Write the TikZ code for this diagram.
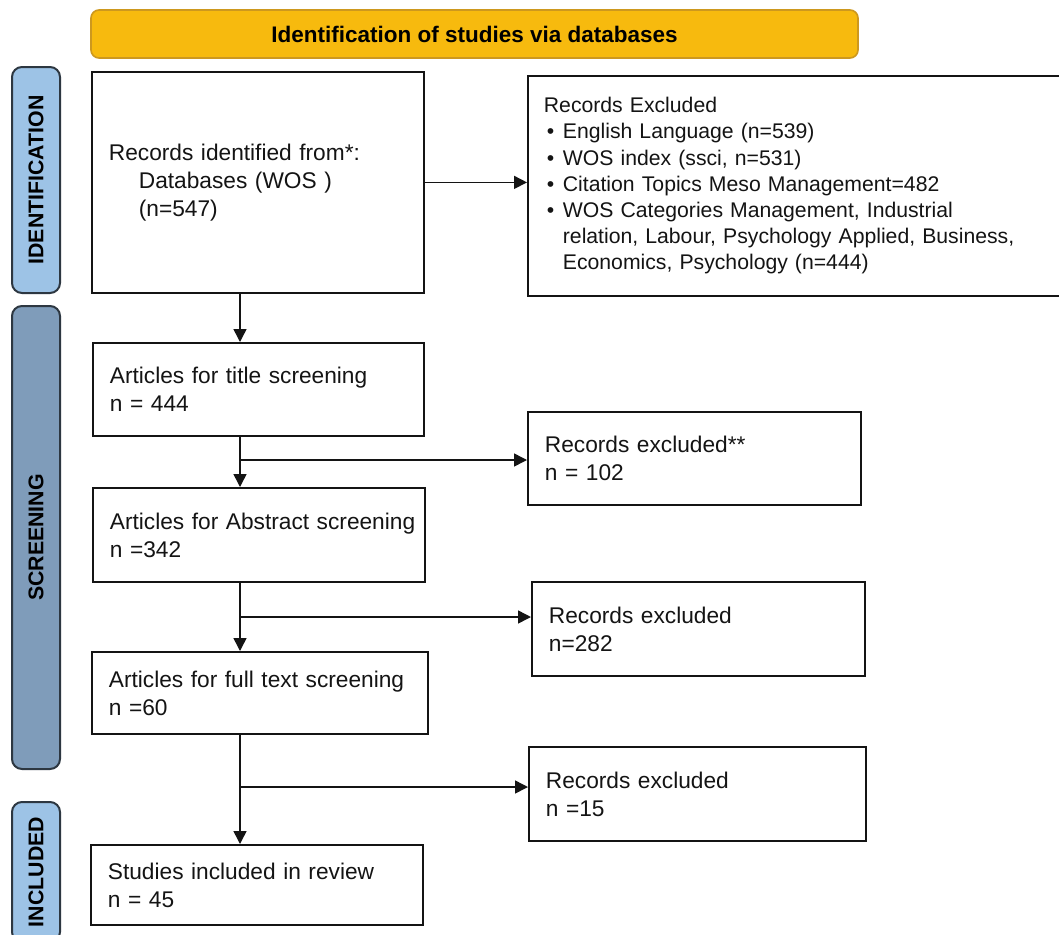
\documentclass[tikz,border=0pt]{standalone}
\usepackage{fontspec}
\setmainfont{Liberation Sans}
\usetikzlibrary{arrows.meta}
\definecolor{gold}{RGB}{247,186,14}
\definecolor{goldline}{RGB}{205,152,30}
\definecolor{lblue}{RGB}{157,195,230}
\definecolor{sblue}{RGB}{127,156,186}
\definecolor{pillline}{RGB}{45,55,65}
\definecolor{ink}{RGB}{20,20,20}
\tikzset{
  boxnode/.style={draw=ink, line width=1.8pt, rectangle, anchor=north west, align=left,
    inner xsep=17pt, inner ysep=0pt, font=\fontsize{22.7}{28}\selectfont, text=ink},
  pill/.style={draw=pillline, line width=2pt, rounded corners=10pt, rotate=90,
    font=\fontsize{21.3}{25}\selectfont\bfseries, text=black, inner sep=0pt},
  banner/.style={draw=goldline, line width=1.6pt, fill=gold, rounded corners=8pt,
    font=\fontsize{22.5}{27}\selectfont\bfseries, text=black, inner sep=0pt},
  conn/.style={draw=ink, line width=1.5pt},
  arr/.style={conn, -{Triangle[length=13pt,width=13pt]}}
}
\begin{document}
\begin{tikzpicture}[x=1pt,y=-1pt]
\useasboundingbox (0,0) rectangle (1059,934);
\clip (0,0) rectangle (1059,934);
\fill[white] (0,0) rectangle (1059,934);

% banner
\node[banner, minimum width=767pt, minimum height=48pt] (ban) at (474.5,34) {Identification of studies via databases};

% side pills
\node[pill, fill=lblue, minimum width=226pt, minimum height=48pt] (pid) at (36,180) {IDENTIFICATION};
\node[pill, fill=sblue, minimum width=463pt, minimum height=48pt] (pscr) at (36,537.5) {SCREENING};
\node[pill, fill=lblue, minimum width=140pt, minimum height=48pt] (pinc) at (36,872) {INCLUDED};

% main boxes
\node[boxnode, text width=298pt, minimum height=221pt] (box1) at (91,71)
  {Records identified from*:\\\hspace*{30pt}Databases (WOS )\\\hspace*{30pt}(n=547)};
\node[boxnode, text width=297pt, minimum height=93pt] (box2) at (92,342)
  {\mbox{Articles for title screening}\\n = 444};
\node[boxnode, text width=298pt, minimum height=94pt] (box3) at (92,487)
  {\mbox{Articles for Abstract screening}\\n =342};
\node[boxnode, text width=302pt, minimum height=82pt] (box4) at (91,651)
  {\mbox{Articles for full text screening}\\n =60};
\node[boxnode, text width=298pt, minimum height=80pt] (box5) at (90,844)
  {\mbox{Studies included in review}\\n = 45};

% right boxes
\node[boxnode, text width=511pt, minimum height=220pt, inner xsep=16pt, font=\fontsize{21.2}{26.2}\selectfont] (r1) at (527,75)
  {Records Excluded\\
   \makebox[19pt][l]{\hspace{3pt}\textbullet}English Language (n=539)\\
   \makebox[19pt][l]{\hspace{3pt}\textbullet}WOS index (ssci, n=531)\\
   \makebox[19pt][l]{\hspace{3pt}\textbullet}Citation Topics Meso Management=482\\
   \makebox[19pt][l]{\hspace{3pt}\textbullet}WOS Categories Management, Industrial\\
   \hspace*{19pt}relation, Labour, Psychology Applied, Business,\\
   \hspace*{19pt}Economics, Psychology (n=444)};
\node[boxnode, text width=299pt, minimum height=93pt] (r2) at (527,411)
  {Records excluded**\\n = 102};
\node[boxnode, text width=299pt, minimum height=94pt] (r3) at (531,581)
  {Records excluded\\n=282};
\node[boxnode, text width=303pt, minimum height=94pt] (r4) at (528,746)
  {Records excluded\\n =15};

% connectors
\coordinate (spine) at (240,0);
\draw[arr] (box1.east) -- (box1.east -| r1.west);
\draw[arr] (box1.south -| spine) -- (box2.north -| spine);
\draw[arr] (box2.south -| spine) -- (box3.north -| spine);
\draw[arr] (box3.south -| spine) -- (box4.north -| spine);
\draw[arr] (box4.south -| spine) -- (box5.north -| spine);
\coordinate (j2) at (240,460);
\coordinate (j3) at (240,617);
\coordinate (j4) at (240,787);
\draw[arr] (j2) -- (j2 -| r2.west);
\draw[arr] (j3) -- (j3 -| r3.west);
\draw[arr] (j4) -- (j4 -| r4.west);
\end{tikzpicture}
\end{document}
